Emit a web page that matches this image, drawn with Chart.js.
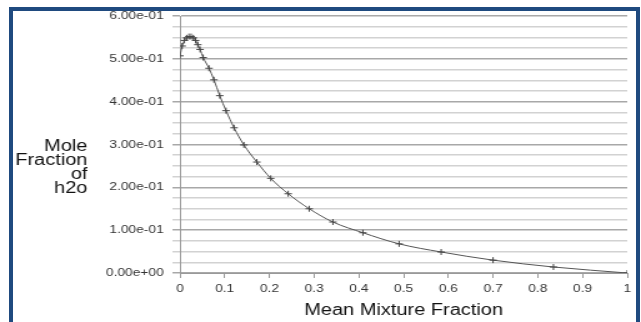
<!DOCTYPE html>
<html>
<head>
<meta charset="utf-8">
<script src="https://cdn.jsdelivr.net/npm/chart.js@4"></script>
<style>
  html, body { margin: 0; padding: 0; background: #fff; }
  body { width: 641px; height: 322px; position: relative; overflow: hidden; }
  #frame {
    position: absolute; left: 9px; top: 7px; width: 623px; height: 330px;
    border: 4px solid #1f4a7f; border-bottom: none; background: #fff;
  }
  #wrap {
    position: absolute; left: 0; top: 0; width: 513px; height: 322px;
    transform: scaleX(1.2495); transform-origin: 0 0;
  }
</style>
</head>
<body>
<div id="frame"></div>
<div id="wrap"><canvas id="c"></canvas></div>
<script>
// Mean mixture fraction (x) and mole fraction of H2O (y)
const mixtureFraction = [0, 0.005, 0.01, 0.015, 0.02, 0.025, 0.03, 0.035, 0.04, 0.045, 0.052,
  0.065, 0.076, 0.089, 0.103, 0.121, 0.143, 0.172, 0.203, 0.242, 0.289, 0.342, 0.409,
  0.49, 0.584, 0.70, 0.835, 1.0];
const moleFractionH2O = [0.507, 0.530, 0.543, 0.549, 0.552, 0.552, 0.549, 0.543, 0.533, 0.522, 0.503,
  0.478, 0.451, 0.414, 0.379, 0.339, 0.299, 0.259, 0.221, 0.185, 0.150, 0.119, 0.094,
  0.068, 0.049, 0.030, 0.014, 0.0];

const xTitle = 'Mean Mixture Fraction';
const yTitleLines = ['Mole', 'Fraction', 'of', 'h2o'];

const FONT = '"Liberation Sans", Arial, sans-serif';

function isMajor(v) {
  return Math.abs(v * 10 - Math.round(v * 10)) < 1e-6;
}
function sciLabel(v) {
  return Number(v).toExponential(2).replace(/e([+-])(\d)$/, 'e$10$2');
}

// Horizontal multi-line y-axis title, right-aligned left of the tick labels
const yTitlePlugin = {
  id: 'yTitle',
  afterDraw(chart) {
    const ctx = chart.ctx;
    ctx.save();
    ctx.font = '16px ' + FONT;
    ctx.fillStyle = '#111';
    ctx.textAlign = 'right';
    ctx.textBaseline = 'middle';
    const area = chart.chartArea;
    const right = area.left - 74;
    const mid = (area.top + area.bottom) / 2;
    const lh = 14;
    const start = mid + 23.5 - (yTitleLines.length - 1) * lh / 2;
    yTitleLines.forEach((t, i) => ctx.fillText(t, right, start + i * lh));
    ctx.restore();
  }
};

const points = mixtureFraction.map((x, i) => ({ x, y: moleFractionH2O[i] }));

new Chart(document.getElementById('c'), {
  type: 'line',
  data: {
    datasets: [{
      data: points,
      borderColor: '#555',
      borderWidth: 1,
      cubicInterpolationMode: 'monotone',
      pointStyle: 'cross',
      pointRadius: 3,
      pointBorderColor: '#444',
      pointBorderWidth: 1,
      fill: false
    }]
  },
  options: {
    responsive: true,
    maintainAspectRatio: false,
    animation: false,
    events: [],
    layout: { padding: { left: 0, top: 16, right: 11, bottom: 0 } },
    plugins: { legend: { display: false }, tooltip: { enabled: false } },
    scales: {
      x: {
        type: 'linear',
        min: 0, max: 1,
        afterFit(s) { s.height = 49; },
        ticks: {
          stepSize: 0.1,
          padding: 4,
          color: '#333',
          font: { family: FONT, size: 11 },
          maxRotation: 0,
          callback: v => String(Number(v.toFixed(1)))
        },
        grid: { drawOnChartArea: false, drawTicks: true, tickLength: 5, color: '#999' },
        border: { color: '#999', width: 1 },
        title: {
          display: true, text: xTitle, color: '#111',
          font: { family: FONT, size: 16 },
          padding: { top: 0, bottom: 2 }
        }
      },
      y: {
        min: 0, max: 0.6,
        afterFit(s) { s.width = 144; },
        ticks: {
          stepSize: 0.025,
          autoSkip: false,
          padding: 7,
          color: '#333',
          font: { family: FONT, size: 11 },
          callback: v => isMajor(v) ? sciLabel(v) : ''
        },
        grid: {
          tickLength: 6,
          lineWidth: 1.5,
          color: c => (c.tick && isMajor(c.tick.value)) ? '#a8a8a8' : '#d2d2d2'
        },
        border: { color: '#999', width: 1 }
      }
    }
  },
  plugins: [yTitlePlugin]
});
</script>
</body>
</html>
